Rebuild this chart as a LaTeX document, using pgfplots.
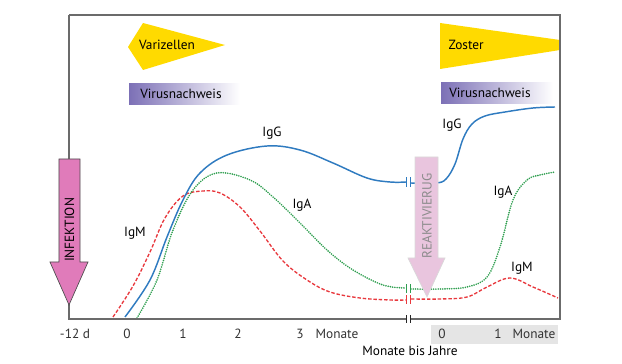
\documentclass[border=0pt]{standalone}
\usepackage{fontspec}
\setmainfont{PT Sans}
\usepackage{pgfplots}
\pgfplotsset{compat=1.18}
\definecolor{cblue}{HTML}{2F7BC0}
\definecolor{cred}{HTML}{E8383D}
\definecolor{cgreen}{HTML}{2E9E4F}
\definecolor{cyellow}{HTML}{FFDA00}
\definecolor{cpurple}{HTML}{7C70B6}
\definecolor{cpink}{HTML}{E07BBA}
\definecolor{cpinkl}{HTML}{E9C5DE}
\definecolor{cframe}{HTML}{6B6B6B}
\definecolor{ctext}{HTML}{333333}
\begin{document}
\begin{tikzpicture}
\begin{axis}[
  scale only axis, width=368.25pt, height=228pt,
  xmin=69, xmax=560, ymin=45, ymax=349,
  clip=false, set layers,
  axis line style={draw=none}, major tick length=0pt,
  ytick=\empty,
  xtick={75,127,183,238,300,337,442,498,534},
  xticklabels={-12 d,0,1,2,3,Monate,0,1,Monate},
  xticklabel style={font=\fontsize{10}{12}\selectfont, text=ctext, yshift=-4pt},
  every node/.append style={font=\fontsize{10}{12}\selectfont, text=ctext},
]
\begin{pgfonlayer}{axis background}
\fill[black!10] (axis cs:431,20) rectangle (axis cs:558,39);
\end{pgfonlayer}

% yellow shapes
\fill[cyellow] (axis cs:128,317) -- (axis cs:143,341) -- (axis cs:225,319) -- (axis cs:143,294) -- cycle;
\fill[cyellow] (axis cs:440,341) -- (axis cs:560,324) -- (axis cs:560,314) -- (axis cs:440,295) -- cycle;
\node at (axis cs:167,319) {Varizellen};
\node[anchor=west] at (axis cs:444,319) {Zoster};

% virus detection boxes
\shade[left color=cpurple, middle color=cpurple!70, right color=white] (axis cs:129,259) rectangle (axis cs:240,280);
\shade[left color=cpurple, middle color=cpurple!70, right color=white] (axis cs:441,260) rectangle (axis cs:553,281);
\node at (axis cs:181,270) {Virusnachweis};
\node at (axis cs:490,271) {Virusnachweis};

% IgM
\addplot[cred, line width=1pt, dash pattern=on 2.6pt off 1.4pt, smooth, tension=0.6] coordinates {
(113,47)(133,78)(150,112)(165,146)(183,168)(203,173)(220,171)(240,157)(260,133)(283,103)(307,84)(330,72)(360,66)(390,64)(406,64)};
\addplot[cred, line width=1pt, dash pattern=on 2.6pt off 1.4pt, smooth, tension=0.6] coordinates {
(411,65)(440,65)(467,67)(487,77)(510,86)(533,77)(558,66)};
% IgA
\addplot[cgreen, line width=1.35pt, dash pattern=on 0pt off 1.7pt, line cap=round, smooth, tension=0.6] coordinates {
(137,46)(157,84)(173,134)(193,174)(217,191)(250,184)(273,167)(300,141)(327,114)(353,94)(383,79)(406,76)};
\addplot[cgreen, line width=1.35pt, dash pattern=on 0pt off 1.7pt, line cap=round, smooth, tension=0.6] coordinates {
(411,75)(440,75)(467,77)(487,87)(500,117)(513,164)(527,184)(540,189)(555,192)};
% IgG
\addplot[cblue, line width=1.1pt, smooth, tension=0.6] coordinates {
(125,47)(150,84)(167,127)(183,164)(200,191)(227,209)(267,218)(300,214)(333,201)(367,186)(390,182)(406,182)};
\addplot[cblue, line width=1.1pt, smooth, tension=0.6] coordinates {
(411,181)(436,181)(446,185)(455,200)(463,225)(472,240)(485,248)(505,252)(533,256)(555,257)};

% break marks on curves
\draw[cblue, line width=0.9pt] (axis cs:406.5,177) -- (axis cs:406.5,187) (axis cs:410.5,177) -- (axis cs:410.5,187);
\draw[cgreen, line width=0.9pt] (axis cs:406.5,71) -- (axis cs:406.5,80) (axis cs:410.5,71) -- (axis cs:410.5,80);
\draw[cred, line width=0.9pt] (axis cs:406.5,60) -- (axis cs:406.5,69) (axis cs:410.5,60) -- (axis cs:410.5,69);

% frame
\draw[cframe, line width=0.8pt] (axis cs:69,349) -- (axis cs:560,349) -- (axis cs:560,45) -- (axis cs:410.5,45);
\draw[cframe, line width=0.8pt] (axis cs:406.5,45) -- (axis cs:69,45) -- (axis cs:69,349);
\draw[black!85, line width=0.9pt] (axis cs:406.5,41) -- (axis cs:406.5,49) (axis cs:410.5,41) -- (axis cs:410.5,49);

% curve labels
\node at (axis cs:272,231) {IgG};
\node at (axis cs:302,159) {IgA};
\node at (axis cs:135,131) {IgM};
\node at (axis cs:452,239) {IgG};
\node at (axis cs:503,172) {IgA};
\node at (axis cs:522,96) {IgM};

% infection arrow
\filldraw[fill=cpink, draw=black!70, line width=0.5pt] (axis cs:59,205) -- (axis cs:80,205) -- (axis cs:80,102) -- (axis cs:88,102) -- (axis cs:69,59) -- (axis cs:50,102) -- (axis cs:59,102) -- cycle;
\node[rotate=90] at (axis cs:69.5,134) {INFEKTION};

% reactivation arrow
\filldraw[fill=cpinkl, draw=black!15, line width=0.5pt] (axis cs:415,207) -- (axis cs:438,207) -- (axis cs:438,106) -- (axis cs:445,106) -- (axis cs:427,67) -- (axis cs:408,106) -- (axis cs:415,106) -- cycle;
\node[rotate=90, text=black!45] at (axis cs:427,148) {REAKTIVIERUG};

\node at (axis cs:410,13) {Monate bis Jahre};
\end{axis}
\pgfresetboundingbox
\useasboundingbox (-51.75pt,-33.75pt) rectangle (414.75pt,239.25pt);
\end{tikzpicture}
\end{document}
